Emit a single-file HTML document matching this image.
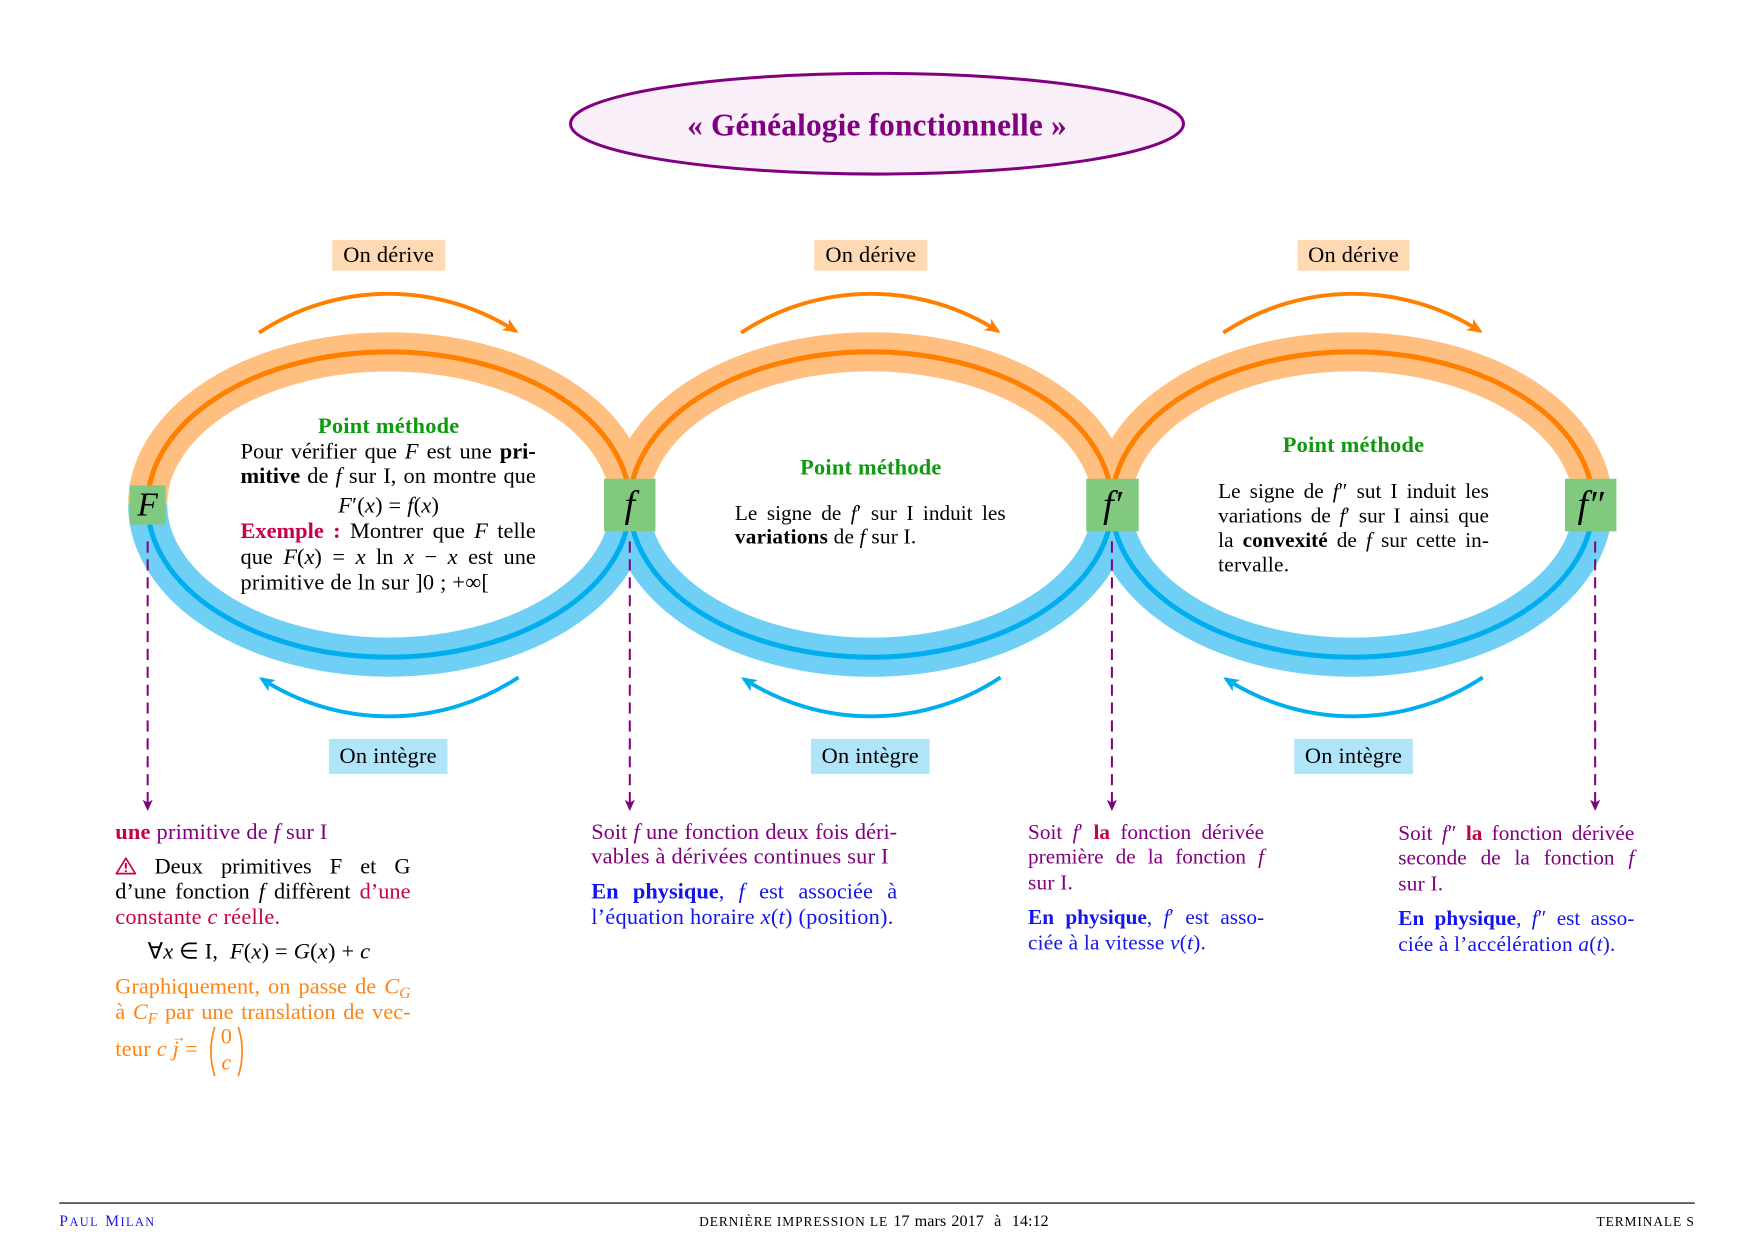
<!DOCTYPE html>
<html><head><meta charset="utf-8">
<style>
html,body{margin:0;padding:0;background:#fff;width:1754px;height:1240px;overflow:hidden}
#w{position:absolute;left:0;top:0;width:1568px;height:1108.5px;transform:scale(1.118622);transform-origin:0 0}
#w svg.bg{position:absolute;left:0;top:0}
.t{position:absolute;font-family:"Liberation Serif",serif;font-size:20px;line-height:22px;height:22px;white-space:nowrap;color:#000;letter-spacing:0.2px}
.j{white-space:normal;text-align:justify;text-align-last:justify;letter-spacing:0}
.c{text-align:center}
.s{font-size:19px}
i{font-style:italic}
b{font-weight:bold}
.pm{color:#0E9A0E;font-weight:bold}
.cr{color:#C8004B}
.pu{color:#800080}
.bl{color:#1414EE}
.or{color:#FF8412}
sub{font-size:0.7em;vertical-align:-0.3em;line-height:0}
.lab{position:absolute;display:flex;align-items:center;justify-content:center;font-family:"Liberation Serif",serif;font-size:20px;color:#000;letter-spacing:0.2px}
.node{position:absolute;background:#80C97F;display:flex;align-items:center;justify-content:center;font-family:"Liberation Serif",serif;font-style:italic;color:#000}
.vec{position:relative;display:inline-block}
.ar{position:absolute;left:-1px;top:-11px;font-size:13px;font-style:normal}
.ft{position:absolute;font-family:"Liberation Serif",serif;white-space:nowrap;line-height:16px;color:#000}
</style></head>
<body>
<div id="w">
<svg class="bg" width="1568" height="1109" viewBox="0 0 1568 1109">
<defs>
<marker id="ao" markerUnits="userSpaceOnUse" viewBox="0 0 14 12" markerWidth="14" markerHeight="12" refX="11" refY="6" orient="auto"><path d="M0,0 L14,6 L0,12 L3.5,6 Z" fill="#FF8000"/></marker>
<marker id="ab" markerUnits="userSpaceOnUse" viewBox="0 0 14 12" markerWidth="14" markerHeight="12" refX="11" refY="6" orient="auto"><path d="M0,0 L14,6 L0,12 L3.5,6 Z" fill="#00AEEF"/></marker>
<marker id="ap" markerUnits="userSpaceOnUse" viewBox="0 0 10 10" markerWidth="10" markerHeight="10" refX="8" refY="5" orient="auto"><path d="M0,0.5 L10,5 L0,9.5 L2.5,5 Z" fill="#800080"/></marker>
</defs>
<ellipse cx="784" cy="110.6" rx="274" ry="45" fill="#F8EFF8" stroke="#800080" stroke-width="2.7"/>
<g fill="none">
<path d="M132,451 A215.5 136.5 0 0 1 563,451" stroke="#FFBF80" stroke-width="35"/>
<path d="M563,451 A215.5 136.5 0 0 1 994,451" stroke="#FFBF80" stroke-width="35"/>
<path d="M994,451 A215 136.5 0 0 1 1424,451" stroke="#FFBF80" stroke-width="35"/>
<path d="M563,451 A215.5 136.5 0 0 1 132,451" stroke="#70CFF5" stroke-width="35"/>
<path d="M994,451 A215.5 136.5 0 0 1 563,451" stroke="#70CFF5" stroke-width="35"/>
<path d="M1424,451 A215 136.5 0 0 1 994,451" stroke="#70CFF5" stroke-width="35"/>
<path d="M132,451 A215.5 136.5 0 0 1 563,451" stroke="#FF8000" stroke-width="4.5"/>
<path d="M563,451 A215.5 136.5 0 0 1 994,451" stroke="#FF8000" stroke-width="4.5"/>
<path d="M994,451 A215 136.5 0 0 1 1424,451" stroke="#FF8000" stroke-width="4.5"/>
<path d="M563,451 A215.5 136.5 0 0 1 132,451" stroke="#00AEEF" stroke-width="4.5"/>
<path d="M994,451 A215.5 136.5 0 0 1 563,451" stroke="#00AEEF" stroke-width="4.5"/>
<path d="M1424,451 A215 136.5 0 0 1 994,451" stroke="#00AEEF" stroke-width="4.5"/>
<path d="M231.5,297.5 A210 210 0 0 1 461,296" stroke="#FF8000" stroke-width="3.5" marker-end="url(#ao)"/>
<path d="M662.5,297.5 A210 210 0 0 1 892,296" stroke="#FF8000" stroke-width="3.5" marker-end="url(#ao)"/>
<path d="M1093.5,297.5 A210 210 0 0 1 1323,296" stroke="#FF8000" stroke-width="3.5" marker-end="url(#ao)"/>
<path d="M463.5,605.5 A210 210 0 0 1 234,607" stroke="#00AEEF" stroke-width="3.5" marker-end="url(#ab)"/>
<path d="M894.5,605.5 A210 210 0 0 1 665,607" stroke="#00AEEF" stroke-width="3.5" marker-end="url(#ab)"/>
<path d="M1325.5,605.5 A210 210 0 0 1 1096,607" stroke="#00AEEF" stroke-width="3.5" marker-end="url(#ab)"/>
<g stroke="#800080" stroke-width="1.8" stroke-dasharray="10 6">
<path d="M132,484 L132,723" marker-end="url(#ap)"/>
<path d="M563,484 L563,723" marker-end="url(#ap)"/>
<path d="M994,484 L994,723" marker-end="url(#ap)"/>
<path d="M1426,484 L1426,723" marker-end="url(#ap)"/>
</g>
</g>
<rect x="297" y="214.5" width="101" height="27.5" fill="#FFD9B3"/>
<rect x="728" y="214.5" width="101" height="27.5" fill="#FFD9B3"/>
<rect x="1160" y="214.5" width="100" height="27.5" fill="#FFD9B3"/>
<rect x="294" y="660.5" width="106" height="31.5" fill="#B0E4F9"/>
<rect x="725" y="660.5" width="106" height="31.5" fill="#B0E4F9"/>
<rect x="1157" y="660.5" width="106" height="31.5" fill="#B0E4F9"/>
<line x1="53" y1="1075.5" x2="1515" y2="1075.5" stroke="#444" stroke-width="1.4"/>
</svg>

<div class="t c" style="left:484px;top:97px;width:600px;height:32px;line-height:32px;font-size:28px;font-weight:bold;color:#800080;letter-spacing:0.15px">« Généalogie fonctionnelle »</div>

<div class="lab" style="left:297px;top:214.5px;width:101px;height:27.5px">On dérive</div>
<div class="lab" style="left:728px;top:214.5px;width:101px;height:27.5px">On dérive</div>
<div class="lab" style="left:1160px;top:214.5px;width:100px;height:27.5px">On dérive</div>
<div class="lab" style="left:294px;top:660.5px;width:106px;height:31.5px">On intègre</div>
<div class="lab" style="left:725px;top:660.5px;width:106px;height:31.5px">On intègre</div>
<div class="lab" style="left:1157px;top:660.5px;width:106px;height:31.5px">On intègre</div>

<div class="node" style="left:116px;top:434px;width:32px;height:35px;font-size:30px">F</div>
<div class="node" style="left:540px;top:428px;width:46px;height:47px;font-size:34px">f</div>
<div class="node" style="left:971px;top:428px;width:47px;height:47px;font-size:34px">f′</div>
<div class="node" style="left:1399px;top:428px;width:46px;height:47px;font-size:34px">f″</div>

<div class="t pm c" style="left:247.5px;top:369.5px;width:200px">Point méthode</div>
<div class="t j" style="left:215px;top:393px;width:264px">Pour vérifier que <i>F</i> est une <b>pri-</b></div>
<div class="t j" style="left:215px;top:414.5px;width:264px"><b>mitive</b> de <i>f</i> sur I, on montre que</div>
<div class="t c" style="left:247.5px;top:440.5px;width:200px"><i>F</i>′(<i>x</i>) = <i>f</i>(<i>x</i>)</div>
<div class="t j" style="left:215px;top:464.3px;width:264px"><b class="cr">Exemple :</b> Montrer que <i>F</i> telle</div>
<div class="t j" style="left:215px;top:487px;width:264px">que <i>F</i>(<i>x</i>) = <i>x</i> ln <i>x</i> − <i>x</i> est une</div>
<div class="t" style="left:215px;top:510px">primitive de ln sur ]0 ; +∞[</div>

<div class="t pm c" style="left:678.5px;top:407px;width:200px">Point méthode</div>
<div class="t j s" style="left:657px;top:449px;width:242px">Le signe de <i>f</i>′ sur I induit les</div>
<div class="t s" style="left:657px;top:470.3px"><b>variations</b> de <i>f</i> sur I.</div>

<div class="t pm c" style="left:1110px;top:387.4px;width:200px">Point méthode</div>
<div class="t j s" style="left:1089px;top:428.5px;width:242px">Le signe de <i>f</i>″ sut I induit les</div>
<div class="t j s" style="left:1089px;top:451px;width:242px">variations de <i>f</i>′ sur I ainsi que</div>
<div class="t j s" style="left:1089px;top:473.2px;width:242px">la <b>convexité</b> de <i>f</i> sur cette in-</div>
<div class="t s" style="left:1089px;top:494.5px">tervalle.</div>

<div class="t pu" style="left:103px;top:732.5px"><b class="cr">une</b> primitive de <i>f</i> sur I</div>
<div class="t j" style="left:103px;top:764px;width:264px"><svg width="19" height="16" viewBox="0 0 19 16" style="vertical-align:-1px"><path d="M9.5,1.2 L18,15 L1,15 Z" fill="none" stroke="#C8004B" stroke-width="1.5" stroke-linejoin="round"/><path d="M9.5,5.5 L9.5,10.5" stroke="#C8004B" stroke-width="1.8"/><circle cx="9.5" cy="12.8" r="1" fill="#C8004B"/></svg> Deux primitives F et G</div>
<div class="t j" style="left:103px;top:786px;width:264px">d’une fonction <i>f</i> diffèrent <span class="cr">d’une</span></div>
<div class="t cr" style="left:103px;top:808.5px">constante <i>c</i> réelle.</div>
<div class="t" style="left:132px;top:840px">∀<i>x</i> ∈ I,&nbsp; <i>F</i>(<i>x</i>) = <i>G</i>(<i>x</i>) + <i>c</i></div>
<div class="t j or" style="left:103px;top:871px;width:264px">Graphiquement, on passe de <i>C</i><sub><i>G</i></sub></div>
<div class="t j or" style="left:103px;top:893.5px;width:264px">à <i>C</i><sub><i>F</i></sub> par une translation de vec-</div>
<div class="t or" style="left:103px;top:927px">teur <i>c</i> <span class="vec"><i>j</i><span class="ar">→</span></span> =</div>
<div style="position:absolute;left:186px;top:917px;width:33px;height:46px">
<svg width="33" height="46" viewBox="0 0 33 46" style="position:absolute;left:0;top:0"><path d="M6,1 Q-1,23 6,45" fill="none" stroke="#FF8412" stroke-width="1.5"/><path d="M27,1 Q34,23 27,45" fill="none" stroke="#FF8412" stroke-width="1.5"/></svg>
<div class="t or c" style="left:0;top:-1px;width:33px">0</div>
<div class="t or c" style="left:0;top:22px;width:33px"><i>c</i></div>
</div>

<div class="t j pu" style="left:528.5px;top:733px;width:273.5px">Soit <i>f</i> une fonction deux fois déri-</div>
<div class="t pu" style="left:528.5px;top:755px">vables à dérivées continues sur I</div>
<div class="t j bl" style="left:528.5px;top:786px;width:273.5px"><b>En physique</b>, <i>f</i> est associée à</div>
<div class="t bl" style="left:528.5px;top:808.5px">l’équation horaire <i>x</i>(<i>t</i>) (position).</div>

<div class="t j s pu" style="left:919px;top:734px;width:211px">Soit <i>f</i>′ <b class="cr">la</b> fonction dérivée</div>
<div class="t j s pu" style="left:919px;top:756px;width:211px">première de la fonction <i>f</i></div>
<div class="t s pu" style="left:919px;top:778.5px">sur I.</div>
<div class="t j s bl" style="left:919px;top:810px;width:211px"><b>En physique</b>, <i>f</i>′ est asso-</div>
<div class="t s bl" style="left:919px;top:833px">ciée à la vitesse <i>v</i>(<i>t</i>).</div>

<div class="t j s pu" style="left:1250px;top:734.5px;width:211px">Soit <i>f</i>″ <b class="cr">la</b> fonction dérivée</div>
<div class="t j s pu" style="left:1250px;top:757px;width:211px">seconde de la fonction <i>f</i></div>
<div class="t s pu" style="left:1250px;top:779.5px">sur I.</div>
<div class="t j s bl" style="left:1250px;top:810.5px;width:211px"><b>En physique</b>, <i>f</i>″ est asso-</div>
<div class="t s bl" style="left:1250px;top:833.5px">ciée à l’accélération <i>a</i>(<i>t</i>).</div>

<div class="ft" style="left:53px;top:1084px;color:#1a1aee;letter-spacing:1.3px"><span style="font-size:14px">P</span><span style="font-size:11px">AUL</span> <span style="font-size:14px">M</span><span style="font-size:11px">ILAN</span></div>
<div class="ft" style="left:625px;top:1084px"><span style="font-size:12px;letter-spacing:0.8px">DERNIÈRE IMPRESSION LE</span><span style="font-size:14.5px;word-spacing:1px"> 17 mars 2017 &nbsp;à&nbsp; 14:12</span></div>
<div class="ft" style="left:1315px;top:1084px;width:200px;text-align:right;font-size:12px;letter-spacing:0.8px">TERMINALE S</div>
</div>
</body></html>
